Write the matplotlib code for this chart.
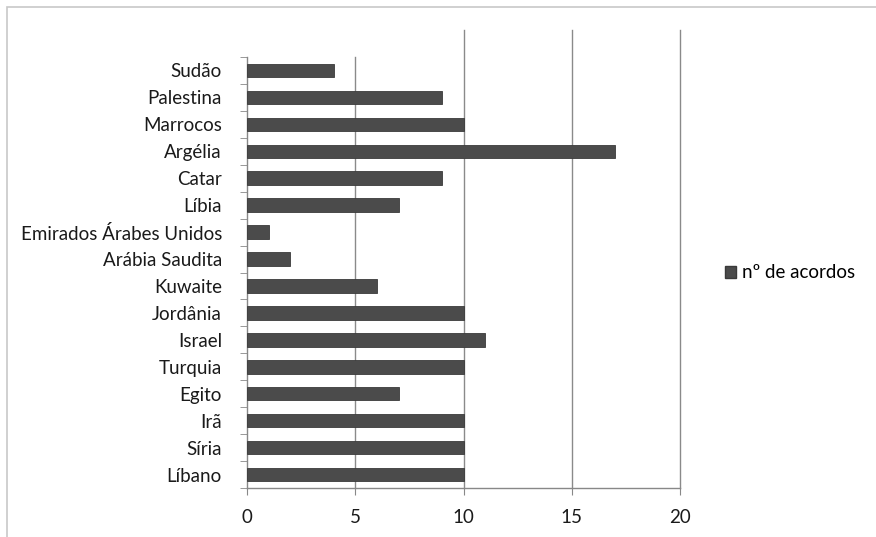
import matplotlib.pyplot as plt
from matplotlib.patches import Rectangle, Patch

paises = ["Líbano", "Síria", "Irã", "Egito", "Turquia", "Israel", "Jordânia",
          "Kuwaite", "Arábia Saudita", "Emirados Árabes Unidos", "Líbia",
          "Catar", "Argélia", "Marrocos", "Palestina", "Sudão"]
acordos = [10, 10, 10, 7, 10, 11, 10, 6, 2, 1, 7, 9, 17, 10, 9, 4]
ticks_x = [0, 5, 10, 15, 20]
serie = "nº de acordos"

plt.rcParams["font.family"] = ["Lato", "DejaVu Sans"]

fig = plt.figure(figsize=(8.76, 5.37), dpi=100)
ax = fig.add_axes([247 / 876, 1 - 488 / 537, (680 - 247) / 876, (488 - 57) / 537])

# moldura externa do gráfico
fig.patches.append(Rectangle((7 / 876, -0.1), 1.2, 1 - 7 / 537 + 0.1,
                             transform=fig.transFigure, fill=False,
                             edgecolor="#c8c8c8", linewidth=1.2))

pos = range(len(paises))
ax.barh(pos, acordos, height=0.5, color="#4b4b4b", edgecolor="#3a3a3a",
        linewidth=0.6, zorder=3)

ax.set_xlim(0, 20)
ax.set_ylim(-0.5, len(paises) - 0.5)
ax.set_xticks(ticks_x)
ax.set_xticklabels([str(t) for t in ticks_x], fontsize=13.5, color="#1a1a1a")
ax.set_yticks(list(pos))
ax.set_yticklabels(paises, fontsize=13.5, color="#1a1a1a")
ax.tick_params(axis="y", length=0, pad=18)
ax.set_yticks([i - 0.5 for i in range(len(paises) + 1)], minor=True)
ax.tick_params(axis="y", which="minor", length=5, color="#888888")
ax.tick_params(axis="x", length=5, color="#888888", pad=10)

# linhas de grade verticais (as de 10, 15 e 20 sobem acima da área)
for t in ticks_x[1:]:
    topo = 1.0 if t == 5 else 1.063
    ax.axvline(t, ymin=0, ymax=topo, color="#8a8a8a", linewidth=1.0,
               zorder=0, clip_on=False)
for s in ["top", "right"]:
    ax.spines[s].set_visible(False)
for s in ["left", "bottom"]:
    ax.spines[s].set_color("#888888")
    ax.spines[s].set_linewidth(1.0)

fig.legend(handles=[Patch(facecolor="#4b4b4b", edgecolor="#3a3a3a", label=serie)],
           loc="center left", bbox_to_anchor=(708 / 876, 1 - 273 / 537),
           frameon=False, fontsize=13.5, handlelength=0.6, handleheight=0.6,
           handletextpad=0.3)

fig.savefig("out.png", dpi=100)
